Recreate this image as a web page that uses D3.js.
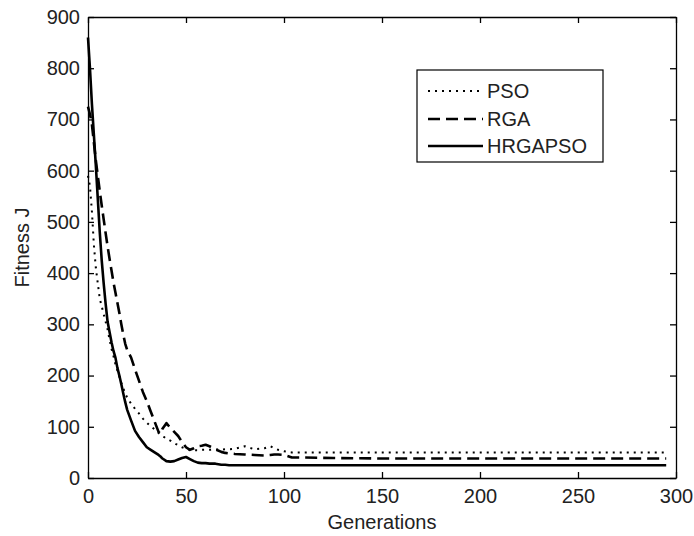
<!DOCTYPE html>
<html>
<head>
<meta charset="utf-8">
<script src="https://cdn.jsdelivr.net/npm/d3@7"></script>
<style>
  body { margin: 0; background: #fff; }
  text { font-family: "Liberation Sans", Arial, sans-serif; fill: #222; }
</style>
</head>
<body>
<script>
// generations (denser where the curves bend)
const generations = [0,1,2,3,4,5,6,7,8,9,10,11,12,13,14,15,16,17,18,19,20,22,24,26,28,30,32,34,36,37,38,40,42,44,46,48,50,52,54,56,58,60,62,65,68,70,72,75,80,85,90,93,95,97,100,104,110,125,150,200,250,295];

const pso = [590,570,520,455,410,380,350,335,320,305,290,270,252,238,222,210,198,186,175,165,157,145,135,126,116,108,101,95,88,85,82,77,73,68,64,60,57,55,54,54,55,55,55,56,55,56,56,57,62,56,58,62,58,55,52,50,50,50,50,50,50,50];

const rga = [725,710,690,655,620,590,560,532,505,478,452,428,405,382,362,342,322,300,280,262,250,235,212,190,168,150,130,110,90,86,96,107,98,90,82,70,60,55,58,62,63,65,62,56,51,49,48,47,46,45,44,45,46,46,45,40,40,39,38,38,38,38];

const hrgapso = [860,800,730,670,610,545,480,425,380,340,305,285,265,248,235,215,200,183,165,148,133,112,92,80,70,60,55,50,45,42,38,33,32,33,36,39,41,37,33,30,29,29,28,28,26,26,25,25,25,25,25,25,25,25,25,25,25,25,25,25,25,25];

const seriesNames = ["PSO", "RGA", "HRGAPSO"];
const xTicks = [0,50,100,150,200,250,300];
const yTicks = [0,100,200,300,400,500,600,700,800,900];

const width = 694;
const height = 536;
const margin = {top:17, right:18, bottom:58, left:88};

const svg = d3.select("body")
  .append("svg")
  .attr("width", width)
  .attr("height", height);

svg.append("rect").attr("width", width).attr("height", height).attr("fill", "#fff");

const xScale = d3.scaleLinear().domain([0,300]).range([margin.left, width - margin.right]);
const yScale = d3.scaleLinear().domain([0,900]).range([height - margin.bottom, margin.top]);

const styles = {
  PSO: {dash: "2,5", w: 2},
  RGA: {dash: "12,6", w: 2.6},
  HRGAPSO: {dash: null, w: 2.6}
};

const data = {PSO: pso, RGA: rga, HRGAPSO: hrgapso};

const line = d3.line()
  .x(d => xScale(d[0]))
  .y(d => yScale(d[1]));

const g = svg.append("g");

seriesNames.forEach(name => {
  const pts = generations.map((gen, i) => [gen, data[name][i]]);
  g.append("path")
    .datum(pts)
    .attr("fill", "none")
    .attr("stroke", "#000")
    .attr("stroke-width", styles[name].w)
    .attr("stroke-dasharray", styles[name].dash)
    .attr("stroke-linejoin", "round")
    .attr("d", line);
});

// axes, ticks pointing inward, mirrored on top/right like MATLAB box on
const fontSize = "20px";
const axBottom = svg.append("g")
  .attr("transform", `translate(0,${height - margin.bottom})`)
  .call(d3.axisBottom(xScale).tickValues(xTicks).tickSizeInner(-6).tickSizeOuter(0).tickPadding(11));
const axLeft = svg.append("g")
  .attr("transform", `translate(${margin.left},0)`)
  .call(d3.axisLeft(yScale).tickValues(yTicks).tickSizeInner(-6).tickSizeOuter(0).tickPadding(8));
const axTop = svg.append("g")
  .attr("transform", `translate(0,${margin.top})`)
  .call(d3.axisTop(xScale).tickValues(xTicks).tickSizeInner(-6).tickSizeOuter(0).tickFormat(""));
const axRight = svg.append("g")
  .attr("transform", `translate(${width - margin.right},0)`)
  .call(d3.axisRight(yScale).tickValues(yTicks).tickSizeInner(-6).tickSizeOuter(0).tickFormat(""));

[axBottom, axLeft, axTop, axRight].forEach(a => {
  a.selectAll("path, line").attr("stroke", "#000").attr("stroke-width", 1.3);
  a.selectAll("text")
    .style("font-size", fontSize)
    .style("font-family", "'Liberation Sans', Arial, sans-serif")
    .attr("fill", "#222");
});

svg.append("text")
  .attr("x", (xScale(0) + xScale(300)) / 2)
  .attr("y", 529)
  .attr("text-anchor", "middle")
  .style("font-size", fontSize)
  .text("Generations");

svg.append("text")
  .attr("transform", `translate(29,${(yScale(0) + yScale(900)) / 2}) rotate(-90)`)
  .attr("text-anchor", "middle")
  .style("font-size", fontSize)
  .text("Fitness J");

// legend
const legend = svg.append("g");
legend.append("rect")
  .attr("x", 417).attr("y", 70)
  .attr("width", 186).attr("height", 92)
  .attr("fill", "#fff")
  .attr("stroke", "#000")
  .attr("stroke-width", 1.2);

const rowY = [91, 119, 146];
seriesNames.forEach((name, i) => {
  legend.append("line")
    .attr("x1", 428).attr("x2", 483)
    .attr("y1", rowY[i]).attr("y2", rowY[i])
    .attr("stroke", "#000")
    .attr("stroke-width", styles[name].w)
    .attr("stroke-dasharray", styles[name].dash);
  legend.append("text")
    .attr("x", 487)
    .attr("y", rowY[i])
    .attr("dy", "0.36em")
    .style("font-size", fontSize)
    .text(name);
});
</script>
</body>
</html>
